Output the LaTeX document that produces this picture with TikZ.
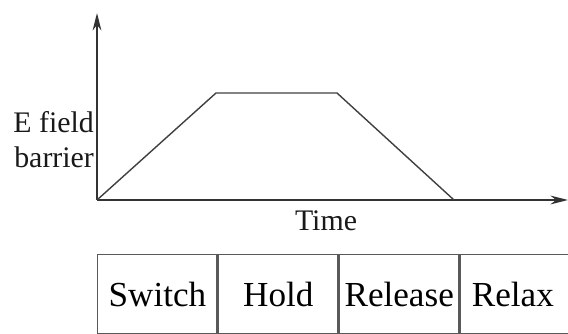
\documentclass[tikz,border=0pt]{standalone}
\usepackage{fontspec}
\setmainfont{Liberation Serif}
\usetikzlibrary{arrows.meta,positioning}

\tikzset{
  axis/.style={line width=1.1pt,black!80,-{Stealth[length=10pt,width=5pt]}},
  curve/.style={line width=0.8pt,black!75},
  cell/.style={draw=black!65,line width=0.8pt,minimum width=2.39cm,minimum height=1.58cm,
               inner sep=0pt,font=\fontsize{20}{24}\selectfont},
  lbl/.style={font=\fontsize{17}{20}\selectfont,black!90}
}

\begin{document}
\begin{tikzpicture}[x=0.02cm,y=-0.02cm]
  \useasboundingbox (0,0) rectangle (568,334);
  % Axes
  \coordinate (O) at (97,200);
  \coordinate (ytop) at (97,13);
  \coordinate (xend) at (568,200);
  \draw[axis] (O) -- (ytop);
  \draw[axis] (O) -- (xend);
  \node[lbl,anchor=east,align=right,inner sep=1pt] (efield) at (96,140) {E field\\barrier};
  \node[lbl] (time) at (326,221) {Time};
  % Barrier profile
  \coordinate (up) at (216,93);
  \coordinate (down) at (337,93);
  \coordinate (zero) at (454,200);
  \draw[curve] (O) -- (up) -- (down) -- (zero);
  % Phases
  \node[cell,anchor=north west] (switch) at (97,254) {Switch};
  \node[cell,right=0pt of switch] (hold) {Hold};
  \node[cell,right=0pt of hold] (release) {Release};
  \node[cell,right=0pt of release,minimum width=2.6cm] (relax) {Relax\kern0.5cm};
\end{tikzpicture}
\end{document}
